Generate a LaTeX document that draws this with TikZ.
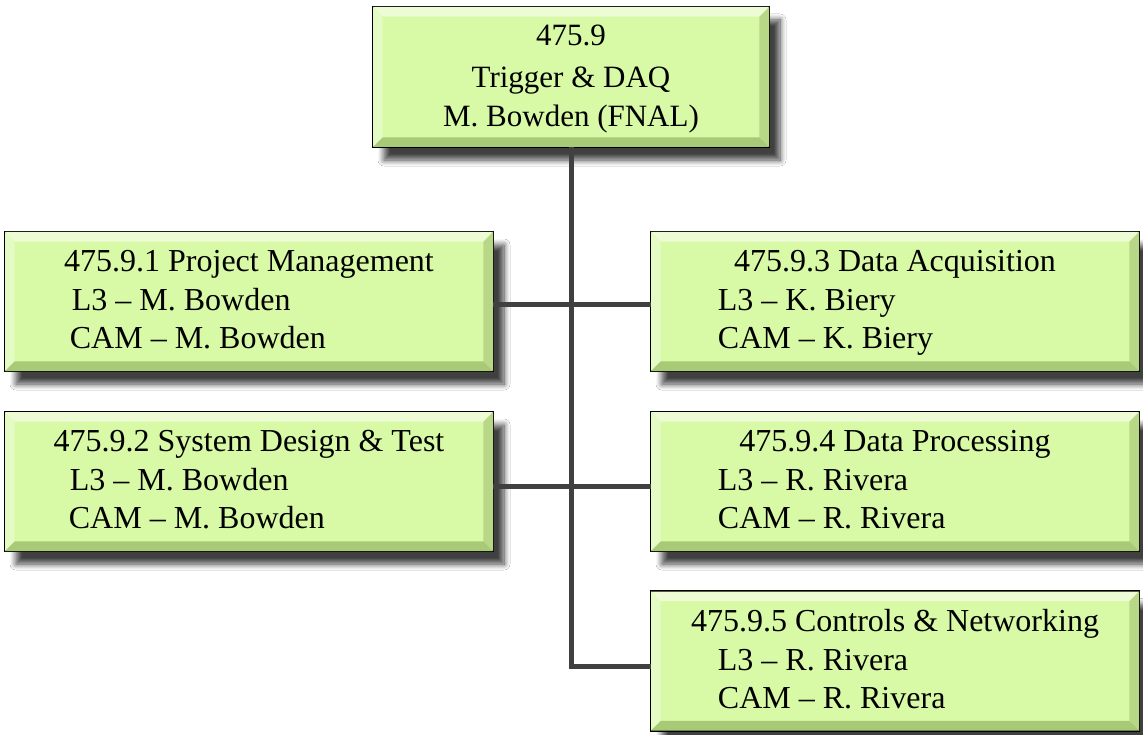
\documentclass[tikz,border=0pt]{standalone}
\usepackage{fontspec}
\setmainfont{Liberation Serif}
\usetikzlibrary{shadows.blur}
\definecolor{boxfill}{RGB}{216,249,166}
\definecolor{bevtop}{RGB}{238,252,214}
\definecolor{bevleft}{RGB}{228,251,196}
\definecolor{bevright}{RGB}{184,216,136}
\definecolor{bevbot}{RGB}{168,202,118}
\definecolor{conncol}{RGB}{64,64,64}
\tikzset{
  wbox/.style={draw=black, line width=2.6pt, fill=boxfill, inner sep=0pt,
    blur shadow={shadow xshift=11pt, shadow yshift=-13pt, shadow blur radius=6pt, shadow opacity=75, shadow blur steps=10}},
  conn/.style={draw=conncol, line width=5pt},
  ttl/.style={font=\fontsize{32}{38}\selectfont, anchor=base, inner sep=0pt},
  sub/.style={font=\fontsize{32}{38}\selectfont, anchor=base west, inner sep=0pt},
  toptxt/.style={font=\fontsize{31}{40}\selectfont, anchor=base, inner sep=0pt},
}
\newcommand\bevelof[1]{%
  \fill[bevtop] ([xshift=1.3pt,yshift=-1.3pt]#1.north west) -- ([xshift=-1.3pt,yshift=-1.3pt]#1.north east)
     -- ([xshift=-11pt,yshift=-11pt]#1.north east) -- ([xshift=11pt,yshift=-11pt]#1.north west) -- cycle;
  \fill[bevleft] ([xshift=1.3pt,yshift=-1.3pt]#1.north west) -- ([xshift=11pt,yshift=-11pt]#1.north west)
     -- ([xshift=11pt,yshift=11pt]#1.south west) -- ([xshift=1.3pt,yshift=1.3pt]#1.south west) -- cycle;
  \fill[bevright] ([xshift=-1.3pt,yshift=-1.3pt]#1.north east) -- ([xshift=-1.3pt,yshift=1.3pt]#1.south east)
     -- ([xshift=-11pt,yshift=11pt]#1.south east) -- ([xshift=-11pt,yshift=-11pt]#1.north east) -- cycle;
  \fill[bevbot] ([xshift=1.3pt,yshift=1.3pt]#1.south west) -- ([xshift=-1.3pt,yshift=1.3pt]#1.south east)
     -- ([xshift=-11pt,yshift=11pt]#1.south east) -- ([xshift=11pt,yshift=11pt]#1.south west) -- cycle;
}
\begin{document}
\begin{tikzpicture}[x=1pt,y=-1pt]
\useasboundingbox[fill=white] (0,0) rectangle (1143,735);

% top box
\node[wbox, minimum width=396pt, minimum height=140pt] (top) at (571,77) {};
\bevelof{top}
\node[toptxt] (t1) at ([yshift=-40pt]top.north) {475.9};
\node[toptxt] (t2) at ([yshift=-82pt]top.north) {Trigger \& DAQ};
\node[toptxt] (t3) at ([yshift=-121pt]top.north) {M. Bowden (FNAL)};

% left boxes
\node[wbox, minimum width=488pt, minimum height=139pt] (L1) at (249,301.5) {};
\bevelof{L1}
\node[ttl] (L1a) at ([yshift=-41pt]L1.north) {475.9.1 Project Management};
\node[sub] (L1b) at ([xshift=68pt,yshift=-80pt]L1.north west) {L3 – M. Bowden};
\node[sub] (L1c) at ([xshift=66pt,yshift=-118pt]L1.north west) {CAM – M. Bowden};

\node[wbox, minimum width=488pt, minimum height=139pt] (L2) at (249,481.5) {};
\bevelof{L2}
\node[ttl] (L2a) at ([yshift=-41pt]L2.north) {475.9.2 System Design \& Test};
\node[sub] (L2b) at ([xshift=66pt,yshift=-80pt]L2.north west) {L3 – M. Bowden};
\node[sub] (L2c) at ([xshift=65pt,yshift=-118pt]L2.north west) {CAM – M. Bowden};

% right boxes
\node[wbox, minimum width=488pt, minimum height=139pt] (R1) at (895,301.5) {};
\bevelof{R1}
\node[ttl] (R1a) at ([yshift=-41pt]R1.north) {475.9.3 Data Acquisition};
\node[sub] (R1b) at ([xshift=68pt,yshift=-80pt]R1.north west) {L3 – K. Biery};
\node[sub] (R1c) at ([xshift=68pt,yshift=-118pt]R1.north west) {CAM – K. Biery};

\node[wbox, minimum width=488pt, minimum height=139pt] (R2) at (895,481.5) {};
\bevelof{R2}
\node[ttl] (R2a) at ([yshift=-41pt]R2.north) {475.9.4 Data Processing};
\node[sub] (R2b) at ([xshift=68pt,yshift=-80pt]R2.north west) {L3 – R. Rivera};
\node[sub] (R2c) at ([xshift=68pt,yshift=-118pt]R2.north west) {CAM – R. Rivera};

\node[wbox, minimum width=488pt, minimum height=139pt] (R3) at (895,661) {};
\bevelof{R3}
\node[ttl] (R3a) at ([yshift=-41pt]R3.north) {475.9.5 Controls \& Networking};
\node[sub] (R3b) at ([xshift=68pt,yshift=-80pt]R3.north west) {L3 – R. Rivera};
\node[sub] (R3c) at ([xshift=68pt,yshift=-118pt]R3.north west) {CAM – R. Rivera};

% connectors
\draw[conn] ([yshift=1.3pt]top.south) |- ([xshift=1.3pt,yshift=-5pt]R3.west);
\draw[conn] ([xshift=-1.3pt,yshift=-3pt]L1.east) -- ([xshift=1.3pt,yshift=-3pt]R1.west);
\draw[conn] ([xshift=-1.3pt,yshift=-5pt]L2.east) -- ([xshift=1.3pt,yshift=-5pt]R2.west);
\end{tikzpicture}
\end{document}
